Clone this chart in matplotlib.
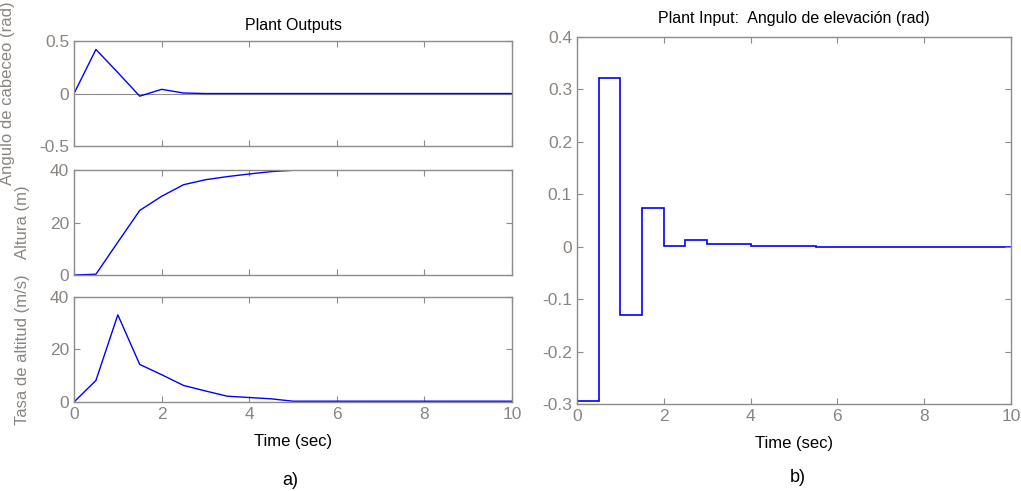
import matplotlib
matplotlib.use("Agg")
import matplotlib.pyplot as plt
import numpy as np

plt.rcParams['font.family'] = ['Liberation Sans', 'DejaVu Sans']

# sample times (0.5 s steps)
t = [0, 0.5, 1.0, 1.5, 2.0, 2.5, 3.0, 3.5, 4.0, 4.5, 5.0, 5.5, 6.0, 6.5,
     7.0, 7.5, 8.0, 8.5, 9.0, 9.5, 10.0]

pitch = [0, 0.42, 0.20, -0.025, 0.04, 0.005, 0, 0, 0, 0, 0, 0, 0, 0,
         0, 0, 0, 0, 0, 0, 0]
altura = [0, 0.3, 12.5, 24.6, 30.0, 34.4, 36.3, 37.5, 38.5, 39.4, 39.9, 40, 40, 40,
          40, 40, 40, 40, 40, 40, 40]
tasa = [0, 8.2, 33.2, 14.3, 10.4, 6.3, 4.2, 2.2, 1.7, 1.2, 0.3, 0.3, 0.3, 0.3,
        0.3, 0.3, 0.3, 0.3, 0.3, 0.3, 0.3]

# plant input, held constant over each 0.5 s step
u = [-0.295, 0.322, -0.130, 0.074, 0.002, 0.013, 0.005, 0.005, 0.002, 0.002,
     0.002, 0.0, 0.0, 0.0, 0.0, 0.0, 0.0, 0.0, 0.0, 0.0]

gray = '#8a8580'
blue = '#0000ff'

fig = plt.figure(figsize=(10.21, 4.91), dpi=100)

def style(ax):
    for s in ax.spines.values():
        s.set_color('#8c8c8c')
        s.set_linewidth(1.0)
    ax.tick_params(direction='in', length=4, colors='#8c8c8c', labelcolor=gray,
                   labelsize=12.5, top=True, right=True, width=0.8)
    ax.set_xlim(0, 10)
    ax.set_xticks([0, 2, 4, 6, 8, 10])

ax1 = fig.add_axes([0.0725, 0.7026, 0.429, 0.2138])
ax2 = fig.add_axes([0.0725, 0.4399, 0.429, 0.2138])
ax3 = fig.add_axes([0.0725, 0.1813, 0.429, 0.2138])
ax4 = fig.add_axes([0.5651, 0.1772, 0.4251, 0.7475])

ax1.plot(t, pitch, color=blue, lw=1)
ax1.axhline(0, color='#8c8c8c', lw=0.8, zorder=0)
ax1.set_ylim(-0.5, 0.5)
ax1.set_yticks([-0.5, 0, 0.5])
ax1.set_yticklabels(['-0.5', '0', '0.5'])
ax1.set_title('Plant Outputs', fontsize=11.5, pad=8)
ax1.set_ylabel('Angulo de cabeceo (rad)', fontsize=12, color=gray)
ax1.yaxis.set_label_coords(-0.135, 0.5)

ax2.plot(t, altura, color=blue, lw=1)
ax2.set_ylim(0, 40)
ax2.set_yticks([0, 20, 40])
ax2.set_ylabel('Altura (m)', fontsize=12, color=gray)
ax2.yaxis.set_label_coords(-0.10, 0.5)

ax3.plot(t, tasa, color=blue, lw=1)
ax3.set_ylim(0, 40)
ax3.set_yticks([0, 20, 40])
ax3.set_ylabel('Tasa de altitud (m/s)', fontsize=12, color=gray)
ax3.yaxis.set_label_coords(-0.10, 0.5)
ax3.set_xlabel('Time (sec)', fontsize=12, labelpad=9)

ax4.stairs(u, t, color=blue, lw=1.2, baseline=None)
ax4.set_ylim(-0.3, 0.4)
ax4.set_yticks([-0.3, -0.2, -0.1, 0, 0.1, 0.2, 0.3, 0.4])
ax4.set_yticklabels(['-0.3', '-0.2', '-0.1', '0', '0.1', '0.2', '0.3', '0.4'])
ax4.set_title('Plant Input:  Angulo de elevación (rad)', fontsize=11.5, pad=10)
ax4.set_xlabel('Time (sec)', fontsize=12, labelpad=9)

for ax in (ax1, ax2, ax3, ax4):
    style(ax)
for ax in (ax1, ax2):
    ax.tick_params(labelbottom=False)

fig.text(0.284, 0.012, 'a)', fontsize=13, ha='center')
fig.text(0.781, 0.019, 'b)', fontsize=13, ha='center')

fig.savefig('out.png', dpi=100)
